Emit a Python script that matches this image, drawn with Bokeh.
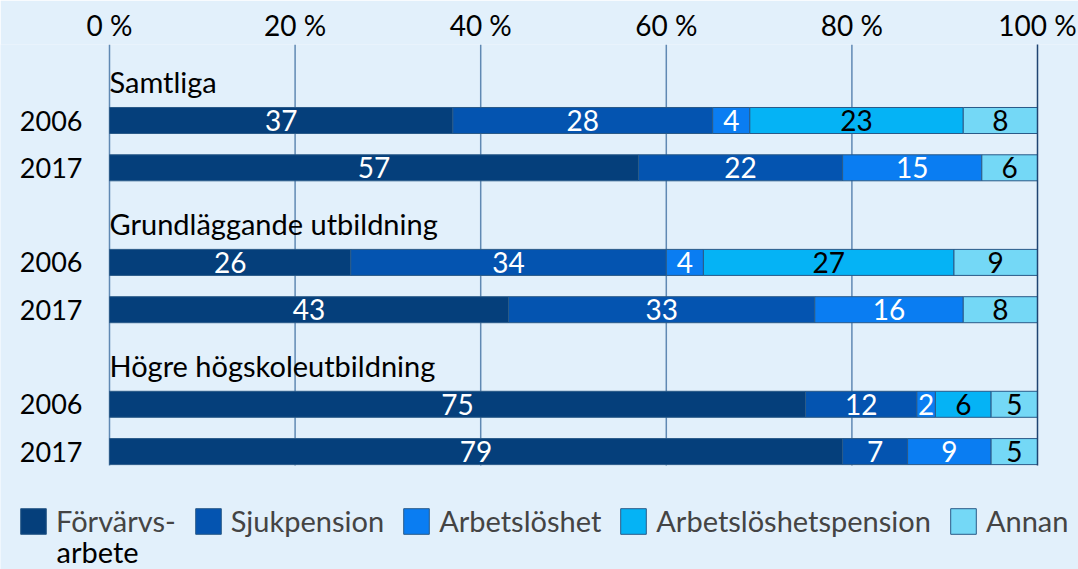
from bokeh.plotting import figure
from bokeh.models import ColumnDataSource, Range1d, FixedTicker, Legend, LegendItem
from bokeh.core.properties import value
from bokeh.embed import file_html
from bokeh.resources import INLINE

groups = ["Samtliga", "Grundläggande utbildning", "Högre högskoleutbildning"]
years = ["2006", "2017"]
series = ["Förvärvs-", "Sjukpension", "Arbetslöshet", "Arbetslöshetspension", "Annan"]
series_second_line = "arbete"
# order of rows: Samtliga 2006, 2017, Grundläggande 2006, 2017, Högre 2006, 2017
forvarvsarbete = [37, 57, 26, 43, 75, 79]
sjukpension = [28, 22, 34, 33, 12, 7]
arbetsloshet = [4, 15, 4, 16, 2, 9]
arbetsloshetspension = [23, 0, 27, 0, 6, 0]
annan = [8, 6, 9, 8, 5, 5]
x_ticks = [0, 20, 40, 60, 80, 100]

values = [forvarvsarbete, sjukpension, arbetsloshet, arbetsloshetspension, annan]
colors = ["#053F7B", "#0454B0", "#0A7DF2", "#05B3F5", "#74D8F6"]
label_colors = ["white", "white", "white", "black", "black"]

FONT = "Lato"
BG = "#E2F0FB"
W, H = 1078, 569
TOP = 44

rows = []
year_text = []
for gi in range(len(groups)):
    for yi, yr in enumerate(years):
        rows.append(gi * 3 + 1 + yi)
        year_text.append(yr)
header_rows = [gi * 3 + 0.18 for gi in range(len(groups))]

# layout: 0 % at px 109, 100 % at px 1037; row 1 at px 120, 47.3 px per row
px_per_unit = (1037 - 109) / 100.0
x_lo = -109 / px_per_unit
x_hi = 100 + (W - 1037) / px_per_unit
px_per_row = 47.3
y_top = 1 - (120 - TOP) / px_per_row
y_bot = y_top + (H - TOP) / px_per_row
grid_bottom = 1 + (465 - 120) / px_per_row

p = figure(width=W, height=H, x_range=Range1d(x_lo, x_hi), y_range=Range1d(y_bot, y_top),
           output_backend="svg", toolbar_location=None, x_axis_location="above", y_axis_location=None,
           min_border_left=0, min_border_right=0, min_border_top=TOP, min_border_bottom=0)
p.background_fill_color = BG
p.border_fill_color = BG
p.outline_line_color = None
p.xgrid.visible = False
p.ygrid.visible = False

# top axis
p.xaxis.ticker = FixedTicker(ticks=x_ticks)
p.xaxis.major_label_overrides = {t: f"{t} %" for t in x_ticks}
p.xaxis.axis_line_color = None
p.xaxis.major_tick_line_color = None
p.xaxis.minor_tick_line_color = None
p.xaxis.major_tick_out = 0
p.xaxis.major_tick_in = 0
p.xaxis.major_label_standoff = 3
p.xaxis.major_label_text_font = FONT
p.xaxis.major_label_text_font_size = "28px"
p.xaxis.major_label_text_color = "black"

# vertical grid lines
gsrc = ColumnDataSource(dict(x=x_ticks[:-1], y0=[y_top] * (len(x_ticks) - 1), y1=[grid_bottom] * (len(x_ticks) - 1)))
p.segment(x0="x", x1="x", y0="y0", y1="y1", source=gsrc, line_color="#6089B3", line_width=1.5)
p.segment(x0=[x_ticks[-1]], x1=[x_ticks[-1]], y0=[y_top], y1=[grid_bottom], line_color="#1F4472", line_width=1.5,
          level="overlay")

# bars
renderers = []
lab_x, lab_y, lab_t, lab_c = [], [], [], []
cum = [0] * len(rows)
for si, vals in enumerate(values):
    ys, ls, rs = [], [], []
    for i, v in enumerate(vals):
        if v > 0:
            ys.append(rows[i]); ls.append(cum[i]); rs.append(cum[i] + v)
            lab_x.append(cum[i] + v / 2); lab_y.append(rows[i]); lab_t.append(str(v)); lab_c.append(label_colors[si])
        cum[i] += v
    src = ColumnDataSource(dict(y=ys, left=ls, right=rs))
    r = p.hbar(y="y", left="left", right="right", height=0.55, source=src,
               fill_color=colors[si], line_color="#2A5A88", line_width=1)
    renderers.append(r)

lab_src = ColumnDataSource(dict(x=lab_x, y=lab_y, t=lab_t, c=lab_c))
p.text(x="x", y="y", text="t", text_color="c", source=lab_src, text_align="center",
       text_baseline="middle", text_font=value(FONT), text_font_size="28px")

# group headers
hdr_src = ColumnDataSource(dict(x=[0] * len(groups), y=header_rows, t=groups))
p.text(x="x", y="y", text="t", source=hdr_src, text_align="left", text_baseline="middle",
       text_font=value(FONT), text_font_size="29px", text_color="black")

# year labels
yr_src = ColumnDataSource(dict(x=[0] * len(rows), y=rows, t=year_text))
p.text(x="x", y="y", text="t", source=yr_src, text_align="right", text_baseline="middle",
       x_offset=-27, text_font=value(FONT), text_font_size="27px", text_color="black")

# legend
legend = Legend(items=[LegendItem(label=s, renderers=[r]) for s, r in zip(series, renderers)],
                orientation="horizontal", location=(17, 31))
legend.label_text_font = FONT
legend.label_text_font_size = "29px"
legend.label_standoff = 7
legend.spacing = 16
legend.glyph_width = 32
legend.glyph_height = 32
legend.padding = 0
legend.margin = 0
legend.background_fill_alpha = 0
legend.border_line_alpha = 0
p.add_layout(legend, "center")

p.text(x=[x_lo], y=[y_bot], text=[series_second_line], x_offset=56, y_offset=-18,
       text_align="left", text_baseline="middle", text_font=value(FONT), text_font_size="29px",
       text_color="black")

open("out.html", "w").write(file_html(p, INLINE))
